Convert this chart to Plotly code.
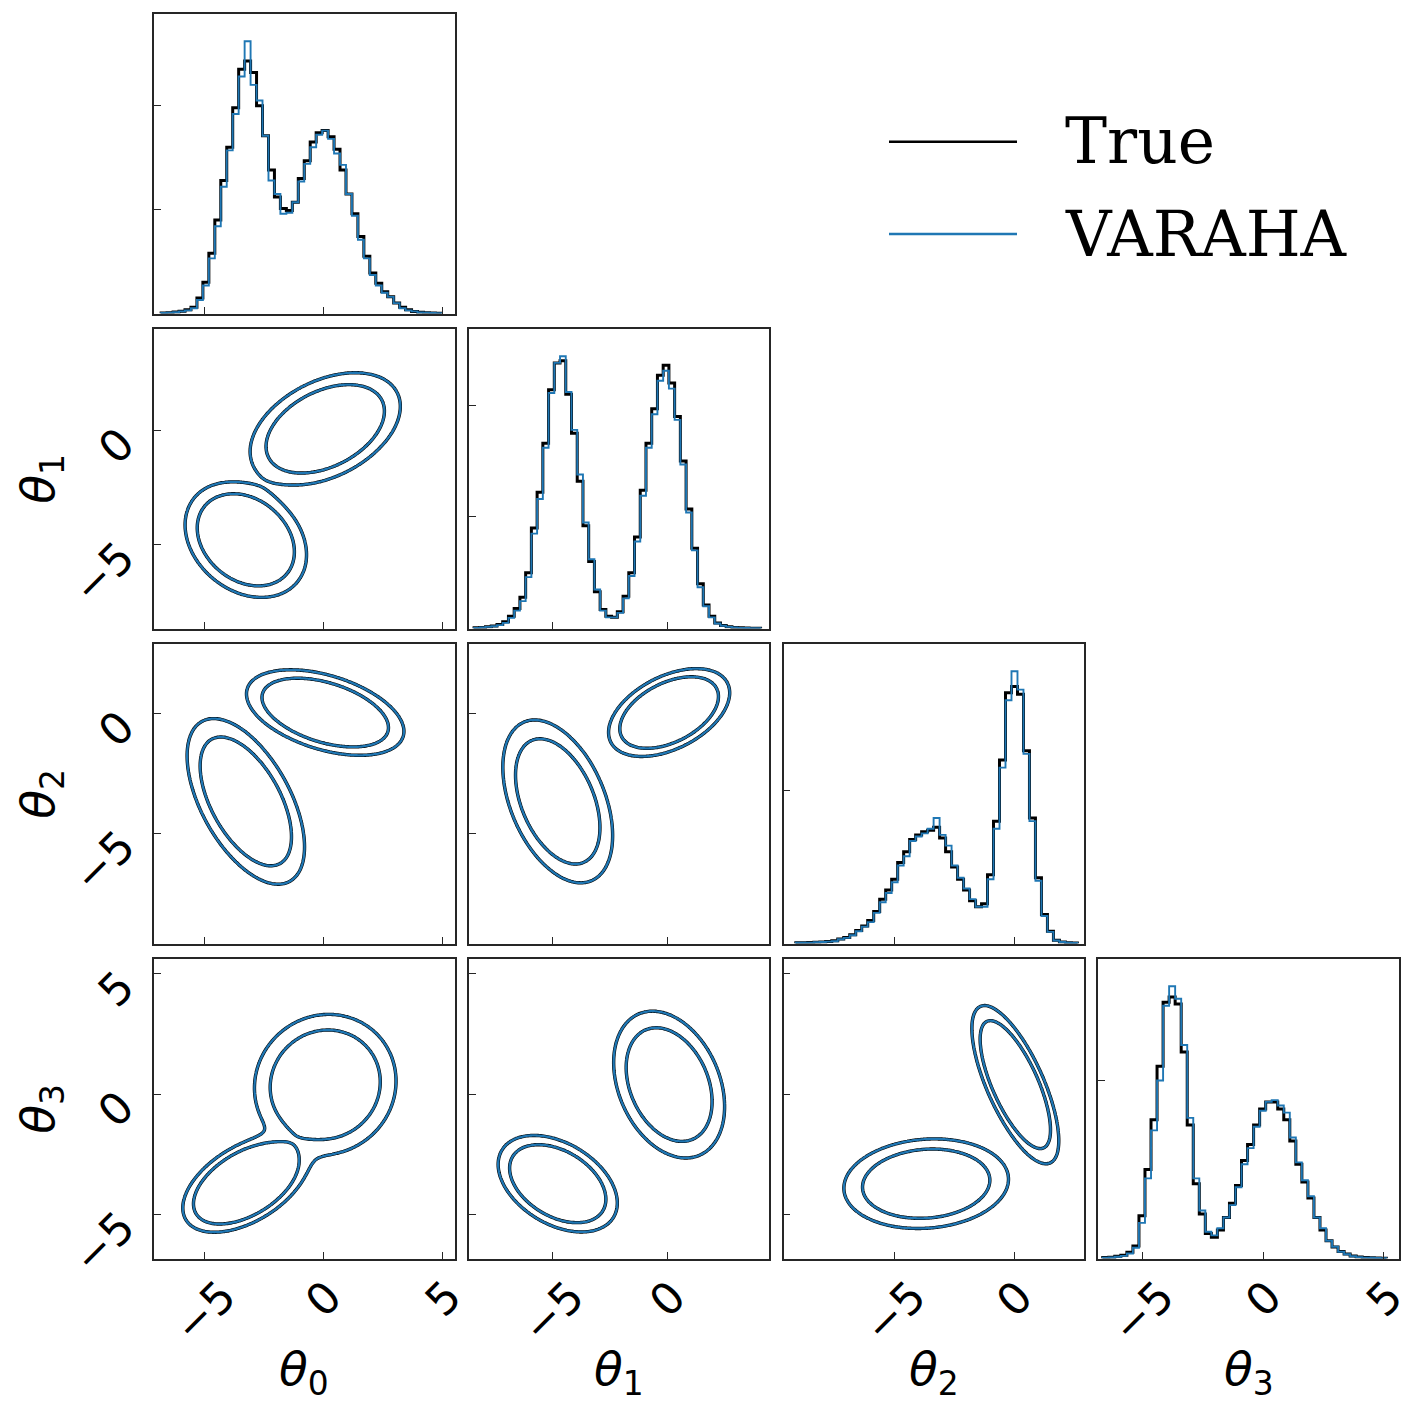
import numpy as np
import plotly.graph_objects as go

# ---------------- data ----------------
axis_ranges = [[-7.1, 5.5], [-8.66, 4.45], [-9.62, 2.92], [-6.83, 5.62]]
tick_values = [-5, 0, 5]
hist_ticks = [1, 2]

# 1D histograms (step outlines), bin width 0.25, heights in units of the first y tick
hist_width = 0.25
hist_start = [-6.8, -8.43, -9.11, -6.65]

varaha_hist_0 = [0.005, 0.008, 0.012, 0.02, 0.03, 0.05, 0.13, 0.27, 0.53, 0.84,
                 1.22, 1.57, 1.92, 2.28, 2.62, 2.2, 2.05, 1.71, 1.28, 1.15,
                 0.96, 0.97, 1.07, 1.27, 1.44, 1.6, 1.72, 1.76, 1.68, 1.54,
                 1.43, 1.15, 0.94, 0.71, 0.53, 0.37, 0.27, 0.2, 0.16, 0.1,
                 0.05, 0.03, 0.02, 0.01, 0.008, 0.005, 0.003]
true_hist_0 = [0.005, 0.008, 0.014, 0.022, 0.035, 0.06, 0.15, 0.3, 0.58, 0.9,
               1.28, 1.6, 1.98, 2.35, 2.43, 2.32, 2.0, 1.71, 1.38, 1.12,
               1.01, 0.99, 1.07, 1.3, 1.47, 1.65, 1.74, 1.76, 1.7, 1.58,
               1.38, 1.15, 0.96, 0.74, 0.55, 0.39, 0.29, 0.21, 0.16, 0.1,
               0.06, 0.035, 0.02, 0.012, 0.008, 0.005, 0.003]

varaha_hist_1 = [0.006, 0.01, 0.015, 0.02, 0.03, 0.05, 0.095, 0.16, 0.245, 0.46,
                 0.85, 1.16, 1.62, 2.11, 2.38, 2.44, 2.12, 1.78, 1.38, 0.95,
                 0.62, 0.35, 0.16, 0.10, 0.10, 0.14, 0.27, 0.47, 0.78, 1.19,
                 1.62, 1.92, 2.22, 2.31, 2.15, 1.87, 1.47, 1.04, 0.70, 0.37,
                 0.20, 0.10, 0.045, 0.024, 0.015, 0.01, 0.006, 0.004, 0.003, 0.002]
true_hist_1 = [0.006, 0.01, 0.016, 0.022, 0.035, 0.06, 0.11, 0.18, 0.28, 0.5,
               0.9, 1.22, 1.66, 2.14, 2.38, 2.4, 2.1, 1.75, 1.32, 0.92,
               0.6, 0.33, 0.17, 0.11, 0.10, 0.15, 0.29, 0.5, 0.82, 1.24,
               1.66, 1.97, 2.27, 2.36, 2.2, 1.9, 1.5, 1.07, 0.72, 0.4,
               0.21, 0.11, 0.05, 0.026, 0.015, 0.01, 0.006, 0.004, 0.003, 0.002]

varaha_hist_2 = [0.005, 0.005, 0.006, 0.008, 0.01, 0.012, 0.015, 0.028, 0.037, 0.054,
                 0.08, 0.11, 0.14, 0.20, 0.27, 0.33, 0.40, 0.51, 0.57, 0.67,
                 0.70, 0.72, 0.75, 0.82, 0.71, 0.64, 0.51, 0.43, 0.36, 0.29,
                 0.24, 0.24, 0.42, 0.75, 1.15, 1.59, 1.78, 1.66, 1.24, 0.80,
                 0.41, 0.18, 0.076, 0.02, 0.01, 0.005, 0.003]
true_hist_2 = [0.005, 0.005, 0.006, 0.008, 0.01, 0.013, 0.018, 0.03, 0.04, 0.058,
               0.085, 0.115, 0.15, 0.21, 0.29, 0.35, 0.42, 0.53, 0.6, 0.68,
               0.71, 0.73, 0.74, 0.76, 0.69, 0.6, 0.5, 0.42, 0.35, 0.28,
               0.24, 0.26, 0.45, 0.8, 1.2, 1.64, 1.68, 1.63, 1.26, 0.82,
               0.43, 0.19, 0.08, 0.022, 0.01, 0.005, 0.003]

varaha_hist_3 = [0.005, 0.006, 0.01, 0.015, 0.028, 0.06, 0.2, 0.45, 0.72, 1.0,
                 1.42, 1.53, 1.46, 1.2, 0.79, 0.45, 0.27, 0.15, 0.13, 0.17,
                 0.23, 0.30, 0.40, 0.53, 0.62, 0.74, 0.83, 0.88, 0.89, 0.86,
                 0.82, 0.68, 0.54, 0.44, 0.35, 0.23, 0.17, 0.10, 0.066, 0.038,
                 0.024, 0.013, 0.008, 0.005, 0.004, 0.003, 0.002]
true_hist_3 = [0.005, 0.007, 0.012, 0.018, 0.035, 0.07, 0.24, 0.5, 0.78, 1.08,
               1.44, 1.47, 1.43, 1.16, 0.75, 0.42, 0.25, 0.14, 0.12, 0.16,
               0.23, 0.31, 0.41, 0.55, 0.64, 0.75, 0.84, 0.88, 0.88, 0.84,
               0.78, 0.66, 0.53, 0.43, 0.34, 0.23, 0.16, 0.10, 0.065, 0.04,
               0.025, 0.014, 0.008, 0.005, 0.004, 0.003, 0.002]

true_hists = [true_hist_0, true_hist_1, true_hist_2, true_hist_3]
varaha_hists = [varaha_hist_0, varaha_hist_1, varaha_hist_2, varaha_hist_3]

# two modes seen in the 2D panels: weight, centre, spread per parameter
mode_weight = [0.5, 0.5]
mode_mean = [[-3.25, -4.78, -3.67, -3.72],
             [0.08, 0.08, 0.05, 0.40]]
mode_sigma = [[0.93, 0.92, 1.31, 0.71],
              [1.18, 0.92, 0.64, 1.16]]
# tilt of each mode in every pair panel: (x param, y param) -> [mode A, mode B]
mode_corr = {
    (0, 1): [-0.26, 0.40],
    (0, 2): [-0.55, -0.44],
    (0, 3): [0.50, 0.05],
    (1, 2): [-0.42, 0.45],
    (1, 3): [-0.40, -0.30],
    (2, 3): [0.10, -0.71],
}
contour_mass = [0.90, 0.975]

# ---------------- styling / geometry (window pixels) ----------------
WIN_W, WIN_H = 1426, 1413
PAGE_PAD = 8  # body margin of the html page
FIG_W, FIG_H = WIN_W - 2 * PAGE_PAD, WIN_H - 2 * PAGE_PAD
PANEL_LEFT, PANEL_TOP = 154, 14
STEP_X, STEP_Y = 314.8, 315
PANEL_W, PANEL_H = 300.5, 299.5
FRAME = "#262626"
BLUE = "#1f77b4"
SERIES = [("True", "black", 3.4), ("VARAHA", BLUE, 2.3)]


def px_x(x):
    return (x - PAGE_PAD) / FIG_W


def px_y(y):
    return 1 - (y - PAGE_PAD) / FIG_H


def x_domain(col):
    left = PANEL_LEFT + STEP_X * col
    return [px_x(left), px_x(left + PANEL_W)]


def y_domain(row):
    top = PANEL_TOP + STEP_Y * row
    return [px_y(top + PANEL_H), px_y(top)]


def axis_style(rng, dom, anchor, tickvals):
    return dict(range=rng, domain=dom, anchor=anchor, showline=True, mirror=True,
                linecolor=FRAME, linewidth=1.5, ticks="inside", ticklen=7,
                tickwidth=1.4, tickcolor=FRAME, tickvals=tickvals,
                showticklabels=False, showgrid=False, zeroline=False, fixedrange=True)


def density(gx, gy, dx, dy):
    z = np.zeros_like(gx)
    for m in range(len(mode_weight)):
        sx, sy = mode_sigma[m][dx], mode_sigma[m][dy]
        rho = mode_corr[(dx, dy)][m]
        u = (gx - mode_mean[m][dx]) / sx
        v = (gy - mode_mean[m][dy]) / sy
        q = (u * u - 2 * rho * u * v + v * v) / (1 - rho * rho)
        z += mode_weight[m] * np.exp(-0.5 * q) / (2 * np.pi * sx * sy * np.sqrt(1 - rho * rho))
    return z


def mass_levels(dx, dy):
    g = np.linspace(-16, 14, 700)
    gx, gy = np.meshgrid(g, g)
    z = np.sort(density(gx, gy, dx, dy).ravel())[::-1]
    c = np.cumsum(z)
    c /= c[-1]
    return [z[np.searchsorted(c, p)] for p in contour_mass]


def tick_text(v):
    return str(v).replace("-", "\u2212")


fig = go.Figure()
layout_axes = {}
annotations = []
tick_font = dict(family="DejaVu Sans", size=44, color="black")
label_font = dict(family="DejaVu Sans", size=47, color="black")

n = 0
for row in range(4):
    for col in range(row + 1):
        n += 1
        xa, ya = f"x{n}", f"y{n}"
        xr = axis_ranges[col]
        xticks = [v for v in tick_values if xr[0] < v < xr[1]]

        if row == col:
            for (name, color, width), heights in zip(SERIES, [true_hists[col], varaha_hists[col]]):
                edges = hist_start[col] + hist_width * np.arange(len(heights) + 1)
                xs = np.concatenate([[edges[0]], edges])
                ys = np.concatenate([[0.0], heights, [0.0]])
                fig.add_trace(go.Scatter(
                    x=xs, y=ys, mode="lines", name=name,
                    line=dict(color=color, width=width - 0.4, shape="hv"),
                    xaxis=xa, yaxis=ya, hoverinfo="skip", showlegend=False))
            yr = [0, 1.1 * max(varaha_hists[col])]
            yticks = hist_ticks
        else:
            yr = axis_ranges[row]
            yticks = [v for v in tick_values if yr[0] < v < yr[1]]
            gx1 = np.linspace(xr[0] - 0.3, xr[1] + 0.3, 220)
            gy1 = np.linspace(yr[0] - 0.3, yr[1] + 0.3, 220)
            gx, gy = np.meshgrid(gx1, gy1)
            z = density(gx, gy, col, row).astype(np.float32)
            hi, lo = mass_levels(col, row)
            for name, color, width in SERIES:
                fig.add_trace(go.Contour(
                    x=gx1.astype(np.float32), y=gy1.astype(np.float32), z=z,
                    name=name, showscale=False, hoverinfo="skip",
                    colorscale=[[0, color], [1, color]],
                    contours=dict(coloring="lines", start=lo, end=hi + 1e-3 * (hi - lo),
                                  size=hi - lo, showlabels=False),
                    line=dict(width=width, smoothing=1.0),
                    xaxis=xa, yaxis=ya))

        xkey = "xaxis" if n == 1 else f"xaxis{n}"
        ykey = "yaxis" if n == 1 else f"yaxis{n}"
        layout_axes[xkey] = axis_style(xr, x_domain(col), ya, xticks)
        layout_axes[ykey] = axis_style(yr, y_domain(row), xa, yticks)

        # tick labels on the outer panels, rotated like the original
        if row == 3:
            for v in xticks:
                annotations.append(dict(
                    text=tick_text(v), x=v, xref=xa, y=y_domain(3)[0], yref="paper",
                    xanchor="center", yanchor="top", yshift=-9, textangle=-45,
                    showarrow=False, font=tick_font))
        if col == 0 and row > 0:
            for v in yticks:
                annotations.append(dict(
                    text=tick_text(v), x=x_domain(0)[0], xref="paper", y=v, yref=ya,
                    xanchor="right", yanchor="top", xshift=-7, yshift=16, textangle=-45,
                    showarrow=False, font=tick_font))

# axis labels
for k in range(4):
    label = f"<i>\u03b8</i><sub>{k}</sub>"
    annotations.append(dict(
        text=label, x=sum(x_domain(k)) / 2, xref="paper",
        y=px_y(1372), yref="paper", xanchor="center", yanchor="middle",
        showarrow=False, font=label_font))
    if k > 0:
        annotations.append(dict(
            text=label, x=px_x(41), xref="paper", y=sum(y_domain(k)) / 2, yref="paper",
            xanchor="center", yanchor="middle", textangle=-90,
            showarrow=False, font=label_font))

# legend drawn in the empty upper-right corner
shapes = []
for (name, color, width), ypix in zip(SERIES, [141.7, 234]):
    shapes.append(dict(type="line", xref="paper", yref="paper",
                       x0=px_x(889), x1=px_x(1017), y0=px_y(ypix), y1=px_y(ypix),
                       line=dict(color=color, width=2.6)))
    annotations.append(dict(
        text=name, x=px_x(1063), xref="paper", y=px_y(ypix), yref="paper",
        xanchor="left", yanchor="middle", showarrow=False,
        font=dict(family="DejaVu Serif", size=63, color="black")))

fig.update_layout(
    width=FIG_W, height=FIG_H,
    margin=dict(l=0, r=0, t=0, b=0),
    paper_bgcolor="white", plot_bgcolor="white",
    showlegend=False,
    annotations=annotations, shapes=shapes,
    **layout_axes,
)

fig.write_html("out.html")
